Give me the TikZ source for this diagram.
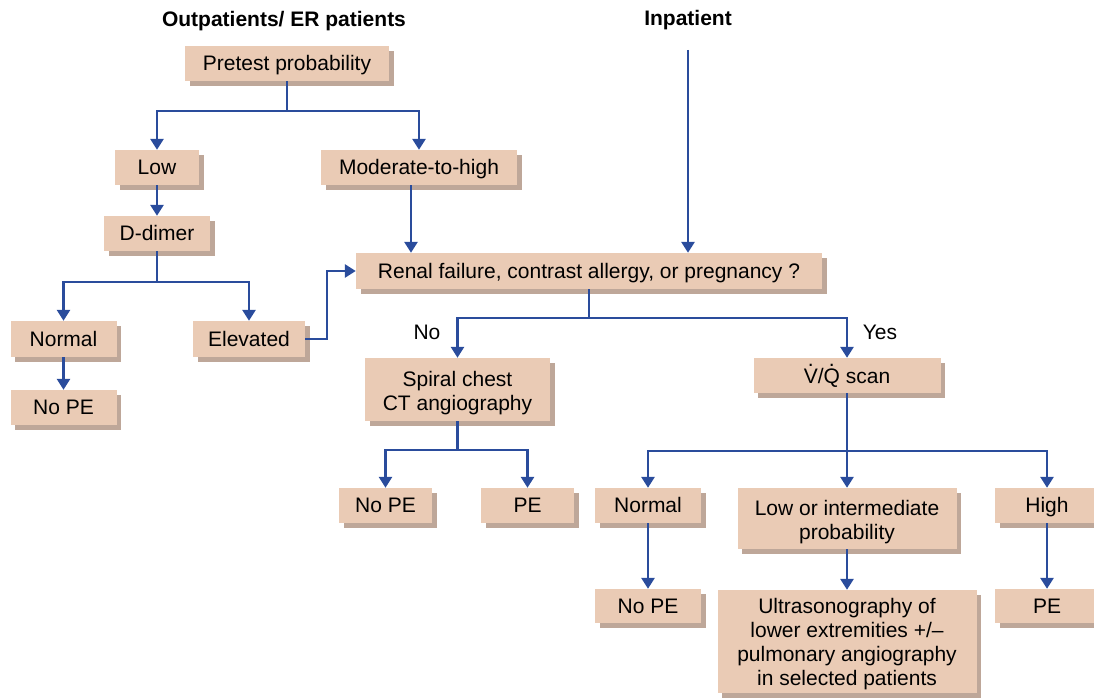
\documentclass[tikz,border=0pt]{standalone}
\usepackage{fontspec}
\setmainfont{Liberation Sans}
\usetikzlibrary{arrows.meta,shadows}

\definecolor{boxfill}{HTML}{EACBB5}
\definecolor{boxshade}{HTML}{BEA799}
\definecolor{flowline}{HTML}{2A4C9C}

% dotted capital (flow symbols V-dot, Q-dot)
\newcommand\dotcap[1]{{\ooalign{#1\cr\hidewidth\raisebox{0.78em}{.}\hidewidth\cr}}}
% extra height on the first line of a multi-line box
\newcommand\firstline[1]{\rule{0pt}{#1}}

\begin{document}
\begin{tikzpicture}[x=1pt,y=-1pt,
  txt/.style={font=\fontsize{21}{24}\selectfont, inner sep=0pt},
  head/.style={font=\fontsize{21}{24}\selectfont\bfseries, inner sep=0pt, anchor=base},
  box/.style={txt, fill=boxfill, align=center,
    general shadow={fill=boxshade, shadow xshift=4.5pt, shadow yshift=-5pt}},
  one/.style={box, text height=15.5pt, text depth=1pt},
  arr/.style={draw=flowline, line width=2.8pt,
    -{Triangle[width=13pt,length=11pt]}},
  ln/.style={draw=flowline, line width=2.8pt}]
\useasboundingbox (0,0) rectangle (1094,698);

% headings
\node[head] (hout) at (284,27) {Outpatients/ ER patients};
\node[head] (hin) at (688,26) {Inpatient};

% boxes
\node[one, minimum width=204pt, minimum height=35pt] (pre) at (287,63.5) {Pretest probability};
\node[one, minimum width=84pt, minimum height=35pt] (low) at (157,167.5) {Low};
\node[one, minimum width=196pt, minimum height=35pt] (mod) at (419,167.5) {Moderate-to-high};
\node[one, minimum width=106pt, minimum height=35pt] (dd) at (157,233.5) {D-dimer};
\node[one, minimum width=466pt, minimum height=36pt] (renal) at (589,271) {Renal failure, contrast allergy, or pregnancy ?};
\node[one, minimum width=106pt, minimum height=36pt] (nl) at (63.5,339) {Normal};
\node[one, minimum width=112pt, minimum height=36pt] (el) at (249,339) {Elevated};
\node[one, minimum width=106pt, minimum height=35pt] (nope1) at (63.5,407.5) {No PE};
\node[box, minimum width=185pt, minimum height=63pt] (ct) at (457.5,389.5) {\firstline{21.5pt}Spiral chest\\CT angiography};
\node[one, text depth=-3pt, minimum width=187pt, minimum height=35pt] (vq) at (847,375.5) {\dotcap{V}/\dotcap{Q} scan};
\node[one, minimum width=93pt, minimum height=35pt] (nope2) at (385.5,505.5) {No PE};
\node[one, minimum width=93pt, minimum height=35pt] (pe2) at (527.5,505.5) {PE};
\node[one, minimum width=106pt, minimum height=35pt] (nr) at (648,505.5) {Normal};
\node[box, minimum width=219pt, minimum height=61pt] (li) at (847,518.5) {\firstline{23pt}Low or intermediate\\probability};
\node[one, minimum width=104pt, minimum height=35pt] (hi) at (1047,505.5) {High};
\node[one, minimum width=106pt, minimum height=34pt] (nope3) at (648,606) {No PE};
\node[box, minimum width=259pt, minimum height=103pt] (us) at (847,641.5) {\firstline{19.5pt}Ultrasonography of\\lower extremities +/--\\pulmonary angiography\\in selected patients};
\node[one, minimum width=104pt, minimum height=34pt] (pe3) at (1047,606) {PE};

% branch labels
\node[txt, anchor=base] (lno) at (427,339) {No};
\node[txt, anchor=base] (lyes) at (880,339) {Yes};

% junction points
\coordinate (j1) at (287,111);
\coordinate (j2) at (157,282);
\coordinate (bend) at (327,339);
\coordinate (inptop) at (688,50);
\coordinate (j3) at (589,318);
\coordinate (j4) at (457.5,450);
\coordinate (j5) at (847,451);

% connectors
\draw[ln] (pre.south) -- (j1);
\draw[arr] (j1) -| (low);
\draw[arr] (j1) -| (mod);
\draw[arr] (low) -- (dd);
\draw[ln] (dd.south) -- (j2);
\draw[arr] (j2) -| (nl);
\draw[arr] (j2) -| (el);
\draw[arr] (nl) -- (nope1);
\draw[arr] (el.east) -- (bend) |- (renal.west);
\draw[arr] ([xshift=-8pt]mod.south) -- ([xshift=-8pt]mod.south |- renal.north);
\draw[arr] (inptop) -- (inptop |- renal.north);
\draw[ln] (renal.south) -- (j3);
\draw[arr] (j3) -| (ct);
\draw[arr] (j3) -| (vq);
\draw[ln] (ct.south) -- (j4);
\draw[arr] (j4) -| (nope2);
\draw[arr] (j4) -| (pe2);
\draw[arr] (vq) -- (li);
\draw[arr] (j5) -| (nr);
\draw[arr] (j5) -| (hi);
\draw[arr] (nr) -- (nope3);
\draw[arr] (li) -- (us);
\draw[arr] (hi) -- (pe3);
\end{tikzpicture}
\end{document}
